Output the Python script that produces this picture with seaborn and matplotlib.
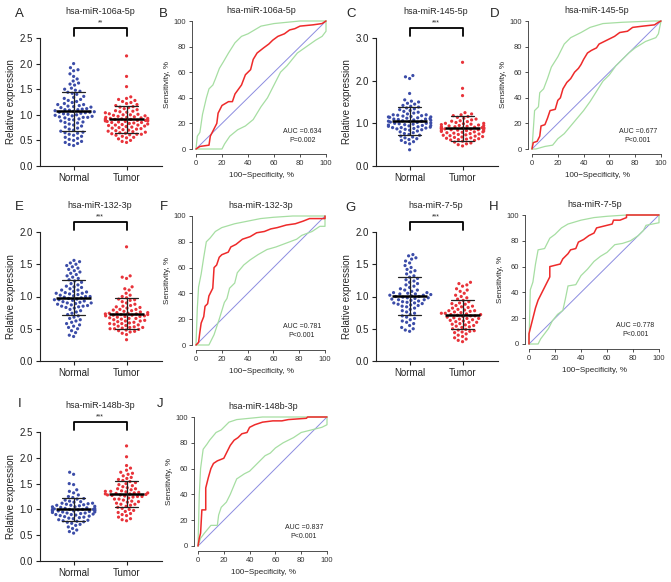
import matplotlib
matplotlib.use("Agg")
import matplotlib.pyplot as plt
import matplotlib.transforms as mtransforms
import seaborn as sns
import numpy as np
import pandas as pd

W, H = 671, 582
BLUE = "#3b4ca8"
RED = "#e8333a"
ROC_RED = "#ee2a2a"
CI_GREEN = "#a6dea2"
DIAG = "#8c8ce0"

# ---- scatter data (relative expression) ----
A_normal = [2.00, 1.92, 1.88, 1.86, 1.80, 1.75, 1.70, 1.66, 1.62, 1.60, 1.58, 1.52, 1.50, 1.48, 1.46,
            1.44, 1.42, 1.40, 1.36, 1.34, 1.32, 1.30, 1.28, 1.26, 1.24, 1.22, 1.20, 1.20, 1.18, 1.17,
            1.16, 1.15, 1.14, 1.12, 1.11, 1.10, 1.09, 1.08, 1.07, 1.06, 1.05, 1.04, 1.03, 1.02, 1.01,
            1.00, 0.99, 0.98, 0.97, 0.96, 0.95, 0.94, 0.92, 0.91, 0.90, 0.88, 0.86, 0.85, 0.84, 0.82,
            0.80, 0.78, 0.76, 0.74, 0.72, 0.70, 0.68, 0.66, 0.64, 0.62, 0.60, 0.58, 0.56, 0.54, 0.52,
            0.50, 0.48, 0.46, 0.44, 0.42, 0.40, 1.10, 1.05, 0.95, 0.65]
A_tumor = [2.15, 1.75, 1.55, 1.35, 1.32, 1.30, 1.28, 1.26, 1.24, 1.22, 1.20, 1.18, 1.16, 1.15, 1.14,
           1.12, 1.10, 1.08, 1.07, 1.06, 1.05, 1.04, 1.02, 1.01, 1.00, 0.99, 0.98, 0.97, 0.96, 0.95,
           0.94, 0.93, 0.92, 0.92, 0.91, 0.90, 0.90, 0.89, 0.88, 0.88, 0.87, 0.86, 0.85, 0.84, 0.83,
           0.82, 0.81, 0.80, 0.79, 0.78, 0.77, 0.76, 0.75, 0.74, 0.73, 0.72, 0.71, 0.70, 0.69, 0.68,
           0.67, 0.66, 0.65, 0.64, 0.63, 0.62, 0.62, 0.61, 0.60, 0.58, 0.56, 0.55, 0.53, 0.50, 0.48,
           0.46, 0.93, 0.91, 0.89, 0.87, 0.95, 1.00, 0.85, 0.80]
C_normal = [2.12, 2.09, 2.05, 1.70, 1.55, 1.52, 1.50, 1.47, 1.45, 1.42, 1.40, 1.38, 1.36, 1.34, 1.32,
            1.30, 1.28, 1.26, 1.24, 1.22, 1.20, 1.19, 1.18, 1.17, 1.16, 1.15, 1.14, 1.13, 1.12, 1.11,
            1.10, 1.09, 1.08, 1.07, 1.06, 1.05, 1.05, 1.04, 1.03, 1.02, 1.01, 1.00, 0.99, 0.98, 0.97,
            0.96, 0.95, 0.94, 0.93, 0.92, 0.91, 0.90, 0.89, 0.88, 0.87, 0.86, 0.85, 0.84, 0.82, 0.80,
            0.78, 0.76, 0.74, 0.72, 0.70, 0.68, 0.66, 0.64, 0.62, 0.60, 0.57, 0.55, 0.52, 0.38, 1.10,
            1.00, 0.95, 1.20, 1.15, 0.90]
C_tumor = [2.43, 1.82, 1.65, 1.25, 1.22, 1.20, 1.18, 1.16, 1.14, 1.12, 1.10, 1.08, 1.06, 1.05, 1.04,
           1.02, 1.00, 0.99, 0.98, 0.97, 0.96, 0.95, 0.94, 0.93, 0.92, 0.91, 0.90, 0.90, 0.89, 0.88,
           0.88, 0.87, 0.86, 0.86, 0.85, 0.84, 0.83, 0.82, 0.81, 0.80, 0.79, 0.78, 0.77, 0.76, 0.75,
           0.74, 0.73, 0.72, 0.71, 0.70, 0.69, 0.68, 0.67, 0.66, 0.65, 0.64, 0.63, 0.62, 0.61, 0.60,
           0.58, 0.56, 0.54, 0.52, 0.50, 0.47, 0.92, 0.89, 0.87, 0.85, 0.83, 0.95, 1.00, 0.80, 0.90]
E_normal = [1.56, 1.54, 1.52, 1.50, 1.48, 1.46, 1.44, 1.42, 1.40, 1.38, 1.36, 1.34, 1.32, 1.30, 1.28,
            1.26, 1.24, 1.22, 1.20, 1.18, 1.16, 1.14, 1.12, 1.10, 1.08, 1.07, 1.06, 1.05, 1.04, 1.03,
            1.02, 1.01, 1.00, 0.99, 0.98, 0.97, 0.96, 0.95, 0.94, 0.93, 0.92, 0.91, 0.90, 0.89, 0.88,
            0.87, 0.86, 0.85, 0.84, 0.83, 0.82, 0.80, 0.78, 0.76, 0.74, 0.72, 0.70, 0.68, 0.66, 0.64,
            0.62, 0.60, 0.58, 0.56, 0.54, 0.52, 0.50, 0.47, 0.44, 0.40, 0.38, 1.00, 0.95, 0.90, 1.10,
            1.15, 1.05, 0.85]
E_tumor = [1.77, 1.32, 1.30, 1.28, 1.15, 1.12, 1.10, 1.05, 1.02, 1.00, 0.98, 0.96, 0.95, 0.94, 0.92,
           0.90, 0.88, 0.86, 0.85, 0.84, 0.82, 0.80, 0.79, 0.78, 0.77, 0.76, 0.75, 0.74, 0.74, 0.73,
           0.73, 0.72, 0.72, 0.71, 0.70, 0.70, 0.69, 0.68, 0.67, 0.66, 0.65, 0.64, 0.63, 0.62, 0.61,
           0.60, 0.59, 0.58, 0.57, 0.56, 0.55, 0.54, 0.53, 0.52, 0.51, 0.50, 0.50, 0.49, 0.48, 0.47,
           0.46, 0.45, 0.43, 0.41, 0.33, 0.75, 0.71, 0.69, 0.66, 0.62, 0.58, 0.52, 0.80, 0.83]
G_normal = [1.65, 1.63, 1.60, 1.58, 1.55, 1.52, 1.48, 1.45, 1.42, 1.40, 1.38, 1.35, 1.32, 1.30, 1.28,
            1.26, 1.24, 1.22, 1.20, 1.18, 1.16, 1.14, 1.12, 1.10, 1.08, 1.06, 1.05, 1.04, 1.03, 1.02,
            1.01, 1.00, 1.00, 0.99, 0.98, 0.97, 0.96, 0.95, 0.94, 0.93, 0.92, 0.91, 0.90, 0.89, 0.88,
            0.87, 0.86, 0.85, 0.84, 0.82, 0.80, 0.78, 0.76, 0.74, 0.72, 0.70, 0.68, 0.66, 0.64, 0.62,
            0.60, 0.58, 0.55, 0.52, 0.50, 0.48, 0.46, 1.04, 1.02, 0.98, 1.06, 1.10, 0.95, 0.90]
G_tumor = [1.22, 1.20, 1.18, 1.16, 1.12, 1.10, 1.08, 1.05, 1.02, 1.00, 0.98, 0.96, 0.94, 0.92, 0.90,
           0.89, 0.88, 0.86, 0.85, 0.84, 0.82, 0.80, 0.79, 0.78, 0.77, 0.76, 0.75, 0.74, 0.73, 0.72,
           0.72, 0.71, 0.70, 0.69, 0.68, 0.67, 0.66, 0.65, 0.64, 0.63, 0.62, 0.61, 0.60, 0.58, 0.57,
           0.56, 0.55, 0.54, 0.52, 0.50, 0.49, 0.48, 0.47, 0.46, 0.45, 0.44, 0.42, 0.40, 0.38, 0.36,
           0.34, 0.32, 0.30, 0.74, 0.70, 0.66, 0.78, 0.83, 0.60, 0.53]
I_normal = [1.72, 1.68, 1.50, 1.48, 1.38, 1.35, 1.32, 1.28, 1.25, 1.23, 1.21, 1.20, 1.18, 1.16, 1.15,
            1.14, 1.12, 1.11, 1.10, 1.09, 1.08, 1.07, 1.06, 1.05, 1.04, 1.03, 1.02, 1.01, 1.00, 1.00,
            0.99, 0.99, 0.98, 0.98, 0.97, 0.97, 0.96, 0.95, 0.94, 0.93, 0.92, 0.91, 0.90, 0.89, 0.88,
            0.87, 0.86, 0.85, 0.84, 0.83, 0.82, 0.80, 0.79, 0.78, 0.77, 0.76, 0.75, 0.73, 0.71, 0.69,
            0.66, 0.63, 0.60, 0.57, 0.54, 1.02, 1.00, 0.97, 1.05, 1.08, 0.95, 0.93, 1.12, 0.90, 1.00]
I_tumor = [2.23, 2.02, 1.85, 1.80, 1.76, 1.72, 1.70, 1.68, 1.65, 1.62, 1.60, 1.58, 1.56, 1.54, 1.52,
           1.50, 1.48, 1.46, 1.44, 1.42, 1.40, 1.38, 1.36, 1.35, 1.34, 1.33, 1.32, 1.31, 1.30, 1.30,
           1.29, 1.28, 1.27, 1.26, 1.25, 1.24, 1.22, 1.20, 1.18, 1.16, 1.14, 1.12, 1.10, 1.08, 1.06,
           1.04, 1.02, 1.00, 0.98, 0.96, 0.94, 0.92, 0.90, 0.88, 0.85, 0.82, 0.80, 0.78, 1.32, 1.28,
           1.25, 1.35, 1.40, 1.20, 1.15, 1.10]

# mean and SD bars: A, C, E, G, I
mean_normal = [1.07, 1.05, 0.98, 1.01, 1.00]
sd_normal = [0.38, 0.33, 0.27, 0.29, 0.22]
mean_tumor = [0.91, 0.88, 0.73, 0.72, 1.30]
sd_tumor = [0.27, 0.29, 0.24, 0.23, 0.26]

mirnas = ["hsa-miR-106a-5p", "hsa-miR-145-5p", "hsa-miR-132-3p", "hsa-miR-7-5p", "hsa-miR-148b-3p"]
stars = ["**", "***", "***", "***", "***"]
auc_text = ["AUC =0.634", "AUC =0.677", "AUC =0.781", "AUC =0.778", "AUC =0.837"]
p_text = ["P=0.002", "P<0.001", "P<0.001", "P<0.001", "P<0.001"]

# ---- ROC curves (x = 100-specificity, y = sensitivity) ----
B_red_x = [0, 3, 10, 11, 16, 17, 20, 25, 28, 30, 35, 38, 42, 44, 47, 52, 56, 59, 63, 68, 72, 76, 80, 90, 97, 100]
B_red_y = [0, 2, 3, 10, 20, 28, 34, 37, 37, 43, 50, 58, 62, 70, 75, 79, 82, 85, 88, 90, 93, 94, 96, 97, 98, 100]
B_hi_x = [0, 1, 3, 5, 8, 10, 13, 15, 18, 21, 25, 30, 35, 40, 45, 50, 60, 70, 80, 100]
B_hi_y = [0, 10, 13, 27, 40, 47, 50, 55, 63, 68, 75, 83, 88, 90, 93, 96, 98, 99, 100, 100]
B_lo_x = [0, 10, 20, 22, 26, 32, 38, 44, 50, 55, 60, 65, 70, 78, 85, 92, 97, 100, 100]
B_lo_y = [0, 0, 0, 4, 10, 15, 18, 23, 33, 40, 50, 60, 65, 75, 80, 85, 88, 92, 100]

D_red_x = [0, 1, 4, 6, 7, 10, 12, 14, 18, 20, 22, 24, 27, 30, 33, 36, 38, 40, 43, 46, 50, 52, 56, 60, 64, 68, 74, 78, 86, 95, 98, 100]
D_red_y = [0, 5, 6, 10, 18, 19, 24, 30, 31, 38, 40, 47, 52, 55, 60, 63, 66, 70, 75, 77, 79, 82, 84, 86, 88, 91, 92, 95, 96, 97, 99, 100]
D_hi_x = [0, 1, 2, 5, 6, 9, 12, 15, 20, 25, 30, 38, 45, 55, 70, 94, 100]
D_hi_y = [0, 15, 30, 33, 44, 47, 55, 64, 72, 82, 87, 91, 95, 98, 99, 100, 100]
D_lo_x = [0, 3, 10, 16, 20, 25, 30, 35, 40, 45, 50, 55, 60, 65, 70, 75, 80, 88, 96, 98, 100]
D_lo_y = [0, 0, 2, 3, 8, 12, 18, 24, 30, 37, 45, 53, 58, 65, 70, 75, 79, 84, 87, 90, 100]

F_red_x = [0, 2, 3, 4, 6, 7, 9, 10, 12, 13, 14, 16, 18, 20, 25, 27, 31, 36, 42, 47, 53, 58, 63, 70, 77, 83, 88, 100, 100]
F_red_y = [0, 2, 10, 17, 22, 30, 32, 38, 42, 44, 60, 62, 68, 70, 72, 76, 78, 82, 84, 87, 88, 90, 91, 93, 94, 96, 98, 98, 100]
F_hi_x = [0, 1, 2, 4, 6, 8, 11, 15, 20, 30, 40, 50, 60, 75, 100]
F_hi_y = [0, 28, 45, 55, 68, 80, 83, 88, 91, 94, 96, 98, 99, 100, 100]
F_lo_x = [0, 10, 14, 18, 22, 24, 26, 30, 32, 37, 42, 48, 55, 62, 70, 78, 82, 90, 96, 100, 100]
F_lo_y = [0, 0, 8, 20, 33, 36, 44, 48, 56, 62, 66, 70, 74, 76, 79, 82, 85, 88, 92, 92, 100]

H_red_x = [0, 0, 2, 3, 5, 7, 9, 11, 14, 16, 16, 20, 24, 26, 30, 32, 36, 38, 42, 46, 50, 52, 56, 60, 64, 65, 70, 75, 75, 100]
H_red_y = [0, 8, 16, 20, 28, 34, 38, 42, 48, 52, 60, 61, 62, 66, 70, 73, 74, 79, 81, 84, 86, 90, 91, 92, 93, 96, 96, 98, 100, 100]
H_hi_x = [0, 1, 3, 5, 7, 12, 16, 20, 25, 30, 40, 50, 60, 75, 100]
H_hi_y = [0, 42, 48, 62, 73, 74, 82, 85, 90, 93, 96, 98, 99, 100, 100]
H_lo_x = [0, 7, 9, 12, 15, 18, 22, 26, 28, 30, 36, 40, 45, 50, 55, 60, 66, 72, 78, 84, 88, 90, 100, 100]
H_lo_y = [0, 0, 4, 8, 12, 18, 23, 26, 35, 45, 46, 53, 58, 64, 68, 71, 77, 78, 80, 84, 88, 92, 94, 100]

J_red_x = [0, 1, 2, 3, 6, 6, 8, 10, 12, 15, 20, 22, 25, 28, 31, 34, 38, 40, 44, 50, 58, 65, 70, 84, 85, 100]
J_red_y = [0, 6, 10, 28, 28, 45, 53, 60, 64, 66, 68, 72, 78, 82, 84, 87, 88, 92, 94, 96, 97, 97, 98, 99, 100, 100]
J_hi_x = [0, 1, 2, 4, 7, 9, 14, 18, 24, 30, 40, 50, 100]
J_hi_y = [0, 40, 60, 75, 79, 82, 88, 90, 96, 98, 99, 100, 100]
J_lo_x = [0, 2, 5, 10, 15, 16, 18, 22, 25, 30, 36, 40, 44, 48, 52, 56, 60, 66, 74, 80, 88, 96, 100, 100]
J_lo_y = [0, 6, 10, 16, 16, 24, 30, 34, 40, 52, 56, 58, 62, 66, 70, 72, 76, 80, 84, 88, 90, 92, 94, 100]


def px_axes(fig, left, top, right, bottom):
    return fig.add_axes([left / W, 1 - bottom / H, (right - left) / W, (bottom - top) / H])


def scatter_panel(fig, box, normal, tumor, k, yticks):
    ax = px_axes(fig, *box)
    df = pd.DataFrame({"group": ["Normal"] * len(normal) + ["Tumor"] * len(tumor),
                       "value": normal + tumor})
    # the (invisible) edge width makes the swarm keep gaps between the small dots
    sns.swarmplot(data=df, x="group", y="value", hue="group", order=["Normal", "Tumor"],
                  hue_order=["Normal", "Tumor"], palette=[BLUE, RED], size=2.3,
                  linewidth=0.8, legend=False, ax=ax, warn_thresh=1)
    for coll in ax.collections:
        coll.set_edgecolor("none")
    stats = [(mean_normal[k], sd_normal[k]), (mean_tumor[k], sd_tumor[k])]
    for i, (m, s) in enumerate(stats):
        ax.plot([i - 0.33, i + 0.33], [m, m], color="black", lw=1.8, solid_capstyle="butt", zorder=5)
        ax.plot([i, i], [m - s, m + s], color="#222222", lw=0.9, zorder=5)
        for y in (m - s, m + s):
            ax.plot([i - 0.22, i + 0.22], [y, y], color="#222222", lw=0.9, zorder=5)
    ax.set_xlim(-0.635, 1.67)
    ax.set_ylim(0, yticks[-1])
    ax.set_yticks(yticks)
    ax.set_yticklabels([f"{t:.1f}" for t in yticks])
    ax.set_xlabel("")
    ax.set_ylabel("Relative expression", fontsize=7, labelpad=3)
    ax.tick_params(labelsize=7, length=3, width=0.8, pad=2, colors="#222222")
    for sp in ("top", "right"):
        ax.spines[sp].set_visible(False)
    for sp in ("left", "bottom"):
        ax.spines[sp].set_linewidth(0.8)
        ax.spines[sp].set_color("#222222")
    trans = mtransforms.blended_transform_factory(ax.transData, ax.transAxes)
    ax.plot([0, 0, 1, 1], [1.015, 1.075, 1.075, 1.015], transform=trans, clip_on=False,
            color="black", lw=1.3)
    ax.text(0.5, 1.115, stars[k], transform=trans, ha="center", va="center", fontsize=5)
    ax.text(0.5, 1.205, mirnas[k], transform=trans, ha="center", va="center", fontsize=6.5)
    return ax


def roc_panel(fig, x0, x100, y100, y0, k, red, hi, lo):
    sx = (x100 - x0) / 100
    sy = (y0 - y100) / 100
    ax = px_axes(fig, x0 - 3 * sx, y100 - 4 * sy, x100 + 4 * sx, y0 + 4 * sy)
    sns.lineplot(x=[0, 100], y=[0, 100], color=DIAG, lw=0.7, ax=ax)
    sns.lineplot(x=hi[0], y=hi[1], sort=False, estimator=None, color=CI_GREEN, lw=0.9, ax=ax)
    sns.lineplot(x=lo[0], y=lo[1], sort=False, estimator=None, color=CI_GREEN, lw=0.9, ax=ax)
    sns.lineplot(x=red[0], y=red[1], sort=False, estimator=None, color=ROC_RED, lw=1.1, ax=ax)
    ax.set_xlim(-3, 104)
    ax.set_ylim(-4, 104)
    ax.set_xticks(range(0, 101, 20))
    ax.set_yticks(range(0, 101, 20))
    for sp in ("top", "right"):
        ax.spines[sp].set_visible(False)
    for sp in ("left", "bottom"):
        ax.spines[sp].set_bounds(0, 100)
        ax.spines[sp].set_linewidth(0.6)
        ax.spines[sp].set_color("#333333")
    ax.tick_params(labelsize=5.5, length=2.5, width=0.6, pad=2, colors="#333333")
    ax.set_xlabel("100\u2212Specificity, %", fontsize=5.8, labelpad=3)
    ax.set_ylabel("Sensitivity, %", fontsize=5.8, labelpad=2)
    ax.set_title(mirnas[k], fontsize=6.5, pad=2)
    ax.text(82, 14, auc_text[k], ha="center", va="center", fontsize=5)
    ax.text(82, 7, p_text[k], ha="center", va="center", fontsize=5)
    return ax


sns.set_theme(style="ticks")
plt.rcParams["font.family"] = ["Liberation Sans", "DejaVu Sans"]

fig = plt.figure(figsize=(W / 100, H / 100), dpi=100)

scatter_panel(fig, (40, 38, 162, 166), A_normal, A_tumor, 0, [0.0, 0.5, 1.0, 1.5, 2.0, 2.5])
scatter_panel(fig, (376, 38, 498, 166), C_normal, C_tumor, 1, [0.0, 1.0, 2.0, 3.0])
scatter_panel(fig, (40, 232, 162, 361), E_normal, E_tumor, 2, [0.0, 0.5, 1.0, 1.5, 2.0])
scatter_panel(fig, (376, 232, 498, 361), G_normal, G_tumor, 3, [0.0, 0.5, 1.0, 1.5, 2.0])
scatter_panel(fig, (40, 432, 162, 561), I_normal, I_tumor, 4, [0.0, 0.5, 1.0, 1.5, 2.0, 2.5])

roc_panel(fig, 196, 326, 21, 149, 0, (B_red_x, B_red_y), (B_hi_x, B_hi_y), (B_lo_x, B_lo_y))
roc_panel(fig, 532, 661, 21, 149, 1, (D_red_x, D_red_y), (D_hi_x, D_hi_y), (D_lo_x, D_lo_y))
roc_panel(fig, 196, 325, 216, 345, 2, (F_red_x, F_red_y), (F_hi_x, F_hi_y), (F_lo_x, F_lo_y))
roc_panel(fig, 529, 659, 215, 344, 3, (H_red_x, H_red_y), (H_hi_x, H_hi_y), (H_lo_x, H_lo_y))
roc_panel(fig, 198, 327, 417, 546, 4, (J_red_x, J_red_y), (J_hi_x, J_hi_y), (J_lo_x, J_lo_y))

letters = ["A", "B", "C", "D", "E", "F", "G", "H", "I", "J"]
letter_x = [19, 163, 351, 495, 19, 164, 350, 494, 20, 160]
letter_y = [14, 14, 14, 14, 207, 207, 208, 207, 404, 404]
for s, lx, ly in zip(letters, letter_x, letter_y):
    fig.text(lx / W, 1 - ly / H, s, fontsize=9.5, ha="center", va="center")

fig.savefig("out.png", dpi=100)
